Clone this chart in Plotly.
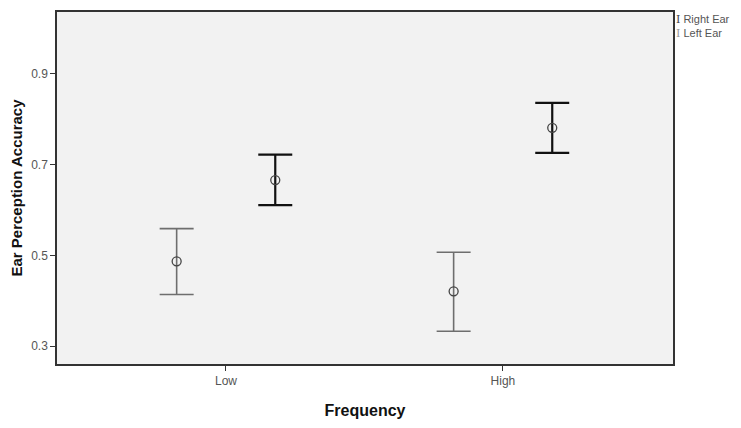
"""Ear perception accuracy by frequency, with error bars per ear."""

import plotly.graph_objects as go

frequencies = ["Low", "High"]
ears = ["Right Ear", "Left Ear"]

right_mean = [0.666, 0.781]
right_upper = [0.722, 0.836]
right_lower = [0.611, 0.726]

left_mean = [0.487, 0.421]
left_upper = [0.559, 0.507]
left_lower = [0.414, 0.333]

y_ticks = [0.3, 0.5, 0.7, 0.9]

OFFSET = 0.178
x_pos = list(range(len(frequencies)))

fig = go.Figure()

series = [
    (ears[0], right_mean, right_upper, right_lower, OFFSET, "#111111", 2.2),
    (ears[1], left_mean, left_upper, left_lower, -OFFSET, "#6e6e6e", 1.6),
]
for name, mean, upper, lower, off, color, lw in series:
    fig.add_trace(go.Scatter(
        x=[p + off for p in x_pos],
        y=mean,
        mode="markers",
        name=name,
        showlegend=False,
        marker=dict(symbol="circle-open", size=9, color="#444444", line=dict(width=1.3)),
        error_y=dict(
            type="data",
            symmetric=False,
            array=[u - m for u, m in zip(upper, mean)],
            arrayminus=[m - l for m, l in zip(mean, lower)],
            color=color,
            thickness=lw,
            width=17,
        ),
    ))

# legend drawn as text with an I-shaped glyph like the original
for i, (name, col, ypos) in enumerate([(ears[0], "#444444", 0.980), (ears[1], "#999999", 0.938)]):
    fig.add_annotation(
        x=1.002, xref="paper", xanchor="left",
        y=ypos, yref="paper", yanchor="middle",
        text=f"<span style='font-family:DejaVu Serif;color:{col}'>I</span> {name}",
        showarrow=False,
        font=dict(family="Arial, Liberation Sans", size=11, color="#555555"),
    )

axis_common = dict(
    showline=True, linecolor="#333333", linewidth=1.5, mirror=True,
    showgrid=False, zeroline=False,
    ticks="outside", ticklen=5, tickcolor="#333333",
    tickfont=dict(family="Arial, Liberation Sans", size=12, color="#555555"),
)

# page adds an 8px body margin, so the figure is sized to fit inside it
fig.update_layout(
    width=733, height=420,
    margin=dict(l=49, r=68, t=2, b=64),
    paper_bgcolor="white",
    plot_bgcolor="#f2f2f2",
    xaxis=dict(
        axis_common,
        range=[-0.61, 1.614],
        tickvals=x_pos, ticktext=frequencies,
        title=dict(text="<b>Frequency</b>", standoff=18,
                   font=dict(family="Arial, Liberation Sans", size=16, color="#111111")),
    ),
    yaxis=dict(
        axis_common,
        range=[0.261, 1.036],
        tickvals=y_ticks, tickformat=".1f",
        title=dict(text="<b>Ear Perception Accuracy</b>", standoff=7,
                   font=dict(family="Arial, Liberation Sans", size=15, color="#111111")),
    ),
)

fig.write_html("out.html")
